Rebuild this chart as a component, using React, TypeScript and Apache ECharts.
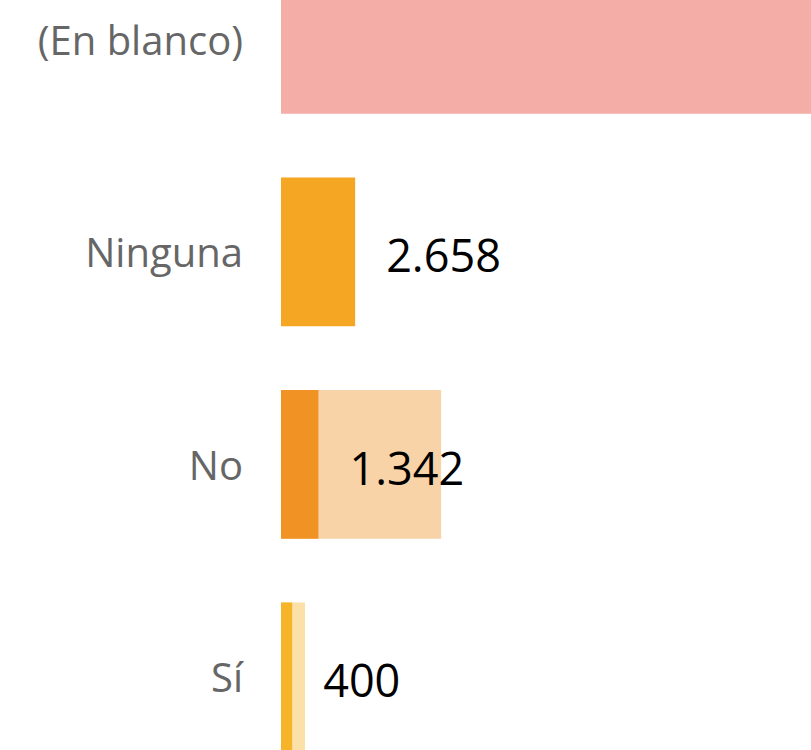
import React, { useEffect, useRef } from "react";
import * as echarts from "echarts";

const categories = ["(En blanco)", "Ninguna", "No", "Sí"];
const mainValues = [21000, 2658, 1342, 400];
const backValues = [0, 0, 5740, 860];
const mainColors = ["#F4AEA7", "#F5A623", "#F19324", "#F6B42A"];
const backColors = ["#F9D4CF", "#FAD6AA", "#F9D3A8", "#FBE0A8"];
const showLabel = [false, true, true, true];

const fmt = (v: number) => String(v).replace(/\B(?=(\d{3})+(?!\d))/g, ".");

export default function App() {
  const ref = useRef<HTMLDivElement>(null);
  useEffect(() => {
    if (!ref.current) return;
    const chart = echarts.init(ref.current, undefined, { renderer: "svg" });
    chart.setOption({
      animation: false,
      grid: { left: 281, right: 0, top: 0, bottom: 0 },
      xAxis: {
        type: "value",
        min: 0,
        max: 19000,
        show: false,
      },
      yAxis: {
        type: "category",
        data: categories,
        inverse: true,
        axisLine: { show: false },
        axisTick: { show: false },
        axisLabel: {
          margin: 38,
          color: "#666666",
          fontSize: 40,
          fontFamily: "Open Sans",
          padding: [4, 0, 0, 0],
        },
      },
      series: [
        {
          type: "bar",
          barCategoryGap: "30%",
          barGap: "-100%",
          data: backValues.map((v, i) => ({ value: v, itemStyle: { color: backColors[i] } })),
          silent: true,
        },
        {
          type: "bar",
          barCategoryGap: "30%",
          barGap: "-100%",
          data: mainValues.map((v, i) => ({
            value: v,
            itemStyle: { color: mainColors[i] },
            label: { show: showLabel[i] },
          })),
          label: {
            show: true,
            position: "right",
            distance: 31,
            offset: [0, 3],
            color: "#000000",
            fontSize: 45,
            fontFamily: "Open Sans",
            formatter: (p: any) => fmt(p.value),
          },
        },
      ],
    });
    return () => chart.dispose();
  }, []);
  return (
    <div style={{ position: "fixed", left: 0, top: 0, width: 811, height: 750, overflow: "hidden", background: "#fff" }}>
      <div ref={ref} style={{ position: "absolute", left: 0, top: -67, width: 811, height: 850 }} />
    </div>
  );
}
